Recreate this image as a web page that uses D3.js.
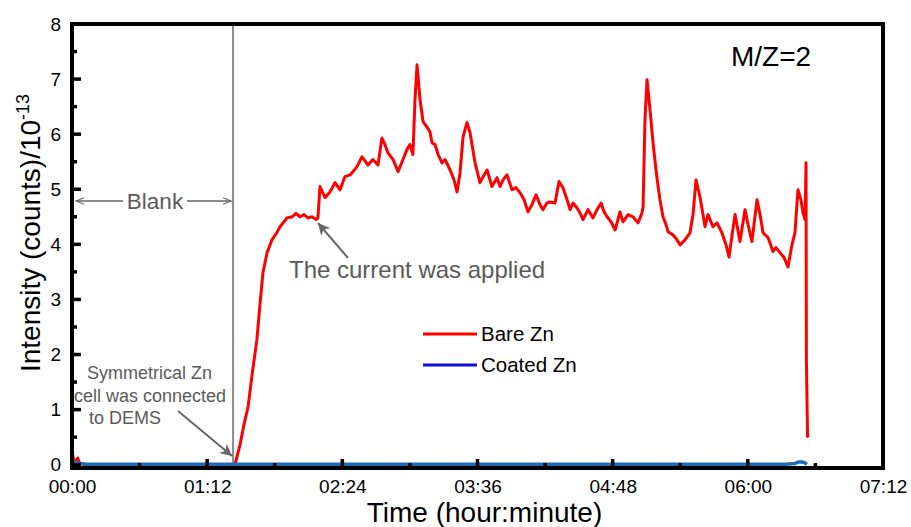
<!DOCTYPE html>
<html>
<head>
<meta charset="utf-8">
<script src="https://cdn.jsdelivr.net/npm/d3@7"></script>
<style>
  body { margin: 0; background: #fff; }
  svg { display: block; font-family: "Liberation Sans", Arial, sans-serif; }
</style>
</head>
<body>
<svg width="911" height="527"></svg>
<script>
// Data: time in minutes, intensity in 10^-13
var bareTime = [0, 0.8, 1.5, 3, 4, 6, 10, 40, 86.8, 89.5, 91.6, 93.8, 95.9, 98.5, 100.1, 101.7, 103.9, 106.5,
  108.7, 110.8, 112.9, 114.5, 117.2, 119.3, 121.5, 123.6, 125.7, 127.8, 130.0, 131.0, 132.1, 134.8, 137.4,
  140.1, 142.8, 145.4, 148.1, 149.2, 151.8, 154.5, 157.7, 160.3, 163.0, 165.1, 166.7, 168.3, 171.0, 173.7,
  176.3, 178.4, 180.0, 181.6, 182.7, 183.8, 185.4, 187.0, 189.1, 190.7, 191.8, 193.4, 195.0, 197.1, 198.7,
  201.4, 203.5, 205.1, 206.7, 208.3, 210.4, 212.0, 214.7, 217.3, 219.5, 221.1, 223.7, 226.4, 228.0, 229.6,
  231.7, 234.4, 236.5, 238.6, 240.8, 242.9, 245.0, 247.2, 249.3, 250.9, 253.0, 254.6, 257.3, 259.4, 261.5,
  263.7, 265.3, 266.9, 269.0, 270.6, 272.2, 274.9, 277.5, 279.7, 281.8, 283.4, 285.0, 287.1, 289.3, 291.9,
  293.5, 296.2, 298.8, 301.5, 303.6, 304.2, 305.2, 306.3, 307.9, 309.5, 311.1, 312.2, 313.2, 314.8, 316.4,
  317.5, 320.2, 322.3, 323.9, 326.5, 329.2, 330.8, 332.4, 334.5, 336.1, 337.2, 338.8, 341.4, 343.6, 346.2,
  348.4, 350.0, 351.6, 353.2, 355.8, 358.5, 360.1, 362.2, 364.9, 366.5, 368.1, 370.8, 373.4, 375.0, 377.1,
  379.3, 381.4, 383.5, 385.1, 386.7, 388.3, 389.4, 390.5, 391.0, 391.2, 391.8, 392.0];
var bareValue = [0.25, 0.1, 0.04, 0.12, 0.03, 0.01, 0, 0, 0, 0.36, 0.73, 1.05, 1.63, 2.27, 2.90, 3.48, 3.85, 4.08,
  4.19, 4.32, 4.41, 4.48, 4.50, 4.56, 4.50, 4.54, 4.48, 4.50, 4.45, 4.48, 5.05, 4.85, 4.95,
  5.12, 4.99, 5.23, 5.26, 5.30, 5.41, 5.59, 5.44, 5.54, 5.44, 5.93, 5.81, 5.66, 5.54, 5.32,
  5.54, 5.72, 5.81, 5.63, 6.62, 7.26, 6.62, 6.23, 6.13, 6.04, 5.84, 5.81, 5.63, 5.48, 5.54,
  5.35, 5.17, 4.95, 5.30, 5.95, 6.21, 6.03, 5.48, 5.12, 5.26, 5.35, 5.05, 5.21, 5.05, 5.17,
  5.26, 4.99, 5.03, 4.94, 4.81, 4.59, 4.72, 4.90, 4.72, 4.63, 4.75, 4.77, 4.75, 5.14, 5.03,
  4.81, 4.63, 4.75, 4.66, 4.57, 4.45, 4.63, 4.48, 4.63, 4.75, 4.59, 4.50, 4.41, 4.26, 4.59,
  4.41, 4.54, 4.50, 4.39, 4.57, 4.68, 6.26, 6.99, 6.44, 5.84, 5.35, 5.05, 4.81, 4.50, 4.36,
  4.23, 4.17, 4.08, 3.99, 4.08, 4.21, 4.54, 5.17, 4.86, 4.54, 4.32, 4.54, 4.32, 4.39, 4.21,
  3.99, 3.77, 4.17, 4.54, 4.05, 4.63, 4.36, 4.05, 4.81, 4.54, 4.21, 4.12, 3.87, 3.94, 3.85,
  3.76, 3.59, 3.99, 4.21, 4.99, 4.81, 4.57, 4.45, 5.48, 1.9, 0.51, 0.55];

var coatedTime = [0, 1, 2, 4, 8, 50, 100, 200, 300, 380, 385, 387, 389, 390.5, 391.5];
var coatedValue = [0.1, 0.06, 0.04, 0.02, 0.01, 0.01, 0.01, 0.01, 0.01, 0.01, 0.02, 0.05, 0.05, 0.03, 0.01];

var seriesNames = ["Bare Zn", "Coated Zn"];
var xTicks = [0, 72, 144, 216, 288, 360, 432];
var xMinorTicks = [36, 108, 180, 252, 324, 396];
var yTicks = [0, 1, 2, 3, 4, 5, 6, 7, 8];
var yMinorTicks = [0.5, 1.5, 2.5, 3.5, 4.5, 5.5, 6.5, 7.5];
var connectTime = 85.8;

var svg = d3.select("svg"),
    margin = {top: 24, right: 28, bottom: 59, left: 72},
    width = +svg.attr("width") - margin.left - margin.right,
    height = +svg.attr("height") - margin.top - margin.bottom;

var g = svg.append("g").attr("transform", "translate(" + margin.left + "," + margin.top + ")");

var x = d3.scaleLinear().domain([0, 432]).range([0, width]);
// axis line sits a little under the zero level, as in the original plot
var y = d3.scaleLinear().domain([-0.06, 8]).range([height, 0]);

function hhmm(m) {
    var h = Math.floor(m / 60), mm = Math.round(m % 60);
    return (h < 10 ? "0" : "") + h + ":" + (mm < 10 ? "0" : "") + mm;
}

var bare = bareTime.map(function (t, i) { return [t, bareValue[i]]; });
var coated = coatedTime.map(function (t, i) { return [t, coatedValue[i]]; });

var line = d3.line()
    .x(function (d) { return x(d[0]); })
    .y(function (d) { return y(d[1]); });

// grey line where the cell was connected
g.append("line")
    .attr("x1", x(connectTime)).attr("x2", x(connectTime))
    .attr("y1", 0).attr("y2", height)
    .style("stroke", "#8a8a8a")
    .style("stroke-width", 2);

// tick labels from the axes, tick marks drawn by hand below
g.append("g").attr("class", "axis")
    .attr("transform", "translate(0," + height + ")")
    .call(d3.axisBottom(x).tickValues(xTicks).tickFormat(hhmm).tickSize(0).tickPadding(12));
g.append("g").attr("class", "axis")
    .call(d3.axisLeft(y).tickValues(yTicks).tickFormat(d3.format("d")).tickSize(0).tickPadding(11));
svg.selectAll(".axis path.domain").remove();
svg.selectAll(".axis text").style("font-size", "19px").style("fill", "#000")
    .style("font-family", "'Liberation Sans', Arial, sans-serif");

// series
g.append("path").datum(bare)
    .attr("d", line)
    .style("fill", "none")
    .style("stroke", "#ff0000")
    .style("stroke-width", 3)
    .style("stroke-linejoin", "round");

g.append("path").datum(coated)
    .attr("d", line)
    .style("fill", "none")
    .style("stroke", "#1f6bb4")
    .style("stroke-width", 3.5)
    .style("stroke-linejoin", "round");

// frame and ticks on top
g.append("rect")
    .attr("x", 0).attr("y", 0)
    .attr("width", width).attr("height", height)
    .style("fill", "none")
    .style("stroke", "#000")
    .style("stroke-width", 4);

var tickGroup = g.append("g");
tickGroup.selectAll(".xt").data(xTicks.concat(xMinorTicks)).enter().append("line")
    .attr("class", "xt")
    .attr("x1", function (d) { return x(d); }).attr("x2", function (d) { return x(d); })
    .attr("y1", height).attr("y2", function (d) { return height - (d % 72 === 0 ? 9 : 5); })
    .attr("stroke", "#000").attr("stroke-width", 3.5);
tickGroup.selectAll(".yt").data(yTicks.concat(yMinorTicks)).enter().append("line")
    .attr("class", "yt")
    .attr("x1", 0).attr("x2", function (d) { return d % 1 === 0 ? 9 : 5; })
    .attr("y1", function (d) { return y(d); }).attr("y2", function (d) { return y(d); })
    .attr("stroke", "#000").attr("stroke-width", 3.5);

// axis titles
svg.append("text")
    .attr("x", margin.left + width / 2 + 7)
    .attr("y", 522)
    .attr("text-anchor", "middle")
    .style("font-size", "28px")
    .text("Time (hour:minute)");

var yTitle = svg.append("text")
    .attr("transform", "translate(40," + 233 + ") rotate(-90)")
    .attr("text-anchor", "middle")
    .style("font-size", "28px");
yTitle.append("tspan").text("Intensity (counts)/10");
yTitle.append("tspan").attr("dy", -11).style("font-size", "18px").text("-13");

// M/Z label
svg.append("text")
    .attr("x", 731).attr("y", 66)
    .style("font-size", "28px")
    .text("M/Z=2");

// legend
var legendColors = ["#ff0000", "#1010d8"];
var legend = svg.append("g").attr("transform", "translate(423,334)");
seriesNames.forEach(function (name, i) {
    legend.append("line")
        .attr("x1", 0).attr("x2", 54)
        .attr("y1", i * 31).attr("y2", i * 31)
        .style("stroke", legendColors[i])
        .style("stroke-width", 3);
    legend.append("text")
        .attr("x", 58).attr("y", i * 31 + 7)
        .style("font-size", "20.5px")
        .text(name);
});

// annotations
var defs = svg.append("defs");
defs.append("marker").attr("id", "open")
    .attr("viewBox", "0 0 10 10").attr("refX", 10).attr("refY", 5)
    .attr("markerWidth", 12).attr("markerHeight", 8).attr("markerUnits", "userSpaceOnUse")
    .attr("orient", "auto")
    .append("path").attr("d", "M0,1L10,5L0,9")
    .style("fill", "none").style("stroke", "#666").style("stroke-width", 1.3);
defs.append("marker").attr("id", "solid")
    .attr("viewBox", "0 0 10 10").attr("refX", 10).attr("refY", 5)
    .attr("markerWidth", 16).attr("markerHeight", 12).attr("markerUnits", "userSpaceOnUse")
    .attr("orient", "auto")
    .append("path").attr("d", "M0,0L10,5L0,10L3,5Z")
    .style("fill", "#666");

var annColor = "#5a5a5a";
var cx = margin.left + x(connectTime);

svg.append("line").attr("x1", 123).attr("y1", 201).attr("x2", 76).attr("y2", 201)
    .style("stroke", "#666").style("stroke-width", 1.3).attr("marker-end", "url(#open)");
svg.append("line").attr("x1", 187).attr("y1", 201).attr("x2", cx - 2).attr("y2", 201)
    .style("stroke", "#666").style("stroke-width", 1.3).attr("marker-end", "url(#open)");
svg.append("text").attr("x", 155).attr("y", 208.5).attr("text-anchor", "middle")
    .style("font-size", "22.5px").style("fill", annColor).text("Blank");

svg.append("line").attr("x1", 348).attr("y1", 258).attr("x2", 318).attr("y2", 223)
    .style("stroke", "#666").style("stroke-width", 2).attr("marker-end", "url(#solid)");
svg.append("text").attr("x", 289).attr("y", 278)
    .style("font-size", "24px").style("fill", annColor).text("The current was applied");

var symLines = ["Symmetrical Zn", "cell was connected", "to DEMS"];
var symX = [87, 74, 89];
svg.append("g").selectAll("text").data(symLines).enter().append("text")
    .attr("x", function (d, i) { return symX[i]; })
    .attr("y", function (d, i) { return 379 + i * 22.5; })
    .style("font-size", "18px").style("fill", annColor)
    .text(function (d) { return d; });
svg.append("line").attr("x1", 178).attr("y1", 411).attr("x2", cx - 1).attr("y2", 456)
    .style("stroke", "#666").style("stroke-width", 2).attr("marker-end", "url(#solid)");
</script>
</body>
</html>
